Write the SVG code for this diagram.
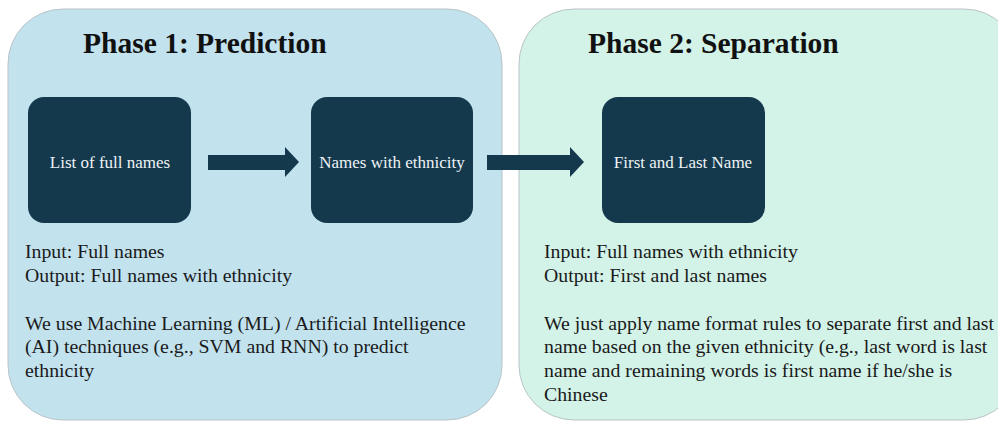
<svg xmlns="http://www.w3.org/2000/svg" width="998" height="421" viewBox="0 0 998 421">
<style>
.panel{stroke:#b9c4c8;stroke-width:1}
.node{fill:#14394d}
.ntext{font-family:"Liberation Serif",serif;font-size:17px;fill:#eef3f5;text-anchor:middle}
.title{font-family:"Liberation Serif",serif;font-size:29.5px;font-weight:bold;fill:#111}
.body{font-family:"Liberation Serif",serif;font-size:19.8px;fill:#1a1a1a}
.arrow{fill:#14394d}
</style>
<rect width="998" height="421" fill="#ffffff"/>
<g id="phase1">
<rect class="panel" x="8" y="9" width="494" height="411" rx="55" fill="#c2e2ee"/>
<text class="title" x="83" y="53">Phase 1: Prediction</text>
<text class="body" x="25" y="258">Input: Full names</text>
<text class="body" x="25" y="282">Output: Full names with ethnicity</text>
<text class="body" x="25" y="330">We use Machine Learning (ML) / Artificial Intelligence</text>
<text class="body" x="25" y="353">(AI) techniques (e.g., SVM and RNN) to predict</text>
<text class="body" x="25" y="377">ethnicity</text>
</g>
<g id="phase2">
<rect class="panel" x="519" y="9" width="500" height="411" rx="55" fill="#d3f2e8"/>
<text class="title" x="588" y="53">Phase 2: Separation</text>
<text class="body" x="544" y="258">Input: Full names with ethnicity</text>
<text class="body" x="544" y="282">Output: First and last names</text>
<text class="body" x="544" y="330">We just apply name format rules to separate first and last</text>
<text class="body" x="544" y="353">name based on the given ethnicity (e.g., last word is last</text>
<text class="body" x="544" y="377">name and remaining words is first name if he/she is</text>
<text class="body" x="544" y="401">Chinese</text>
</g>
<g id="node-full-names">
<rect class="node" x="28" y="97" width="163" height="126" rx="16"/>
<text class="ntext" x="110" y="168">List of full names</text>
</g>
<g id="node-names-ethnicity">
<rect class="node" x="311" y="97" width="162" height="126" rx="16"/>
<text class="ntext" x="392" y="168">Names with ethnicity</text>
</g>
<g id="node-first-last">
<rect class="node" x="602" y="97" width="163" height="126" rx="16"/>
<text class="ntext" x="683" y="168">First and Last Name</text>
</g>
<g id="connectors">
<polygon class="arrow" points="208,155 285,155 285,147 299,162 285,177 285,170 208,170"/>
<polygon class="arrow" points="487,155 570,155 570,147 584,162 570,177 570,170 487,170"/>
</g>
</svg>
